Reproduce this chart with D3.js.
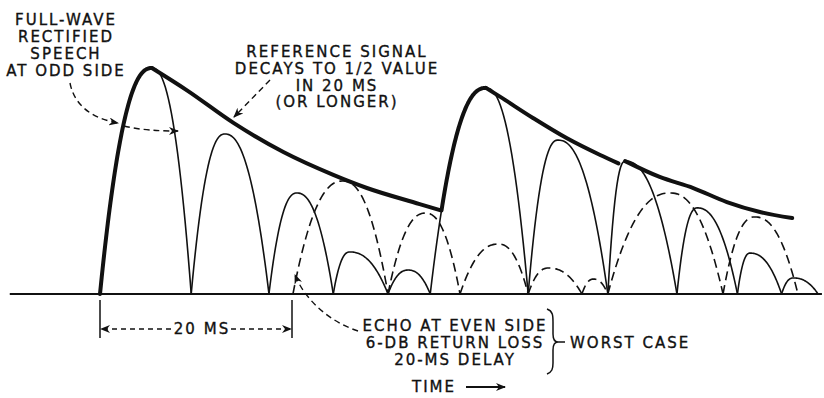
<!DOCTYPE html>
<html>
<head>
<meta charset="utf-8">
<script src="https://cdn.jsdelivr.net/npm/d3@7"></script>
<style>
  body { margin: 0; background: #fff; }
  svg text { font-family: "DejaVu Sans", sans-serif; font-size: 15px; letter-spacing: 2px; fill: #111; stroke: #111; stroke-width: 0.35px; }
</style>
</head>
<body>
<svg id="chart" width="824" height="398"></svg>
<script>
// times in ms, amplitudes relative to the first speech peak

// full-wave rectified speech at odd side (solid arches)
const speechStart = [0, 9.5, 17.6, 24.3, 30.0, 34.4, 44.6, 52.9, 60.1, 66.4, 71.0];
const speechPeakT = [5.4, 13.0, 20.5, 26.0, 32.1, 40.2, 47.7, 54.7, 62.2, 67.7, 72.2];
const speechEnd   = [9.5, 17.6, 24.3, 30.0, 34.4, 44.6, 52.9, 60.1, 66.4, 71.0, 74.8];
const speechAmp   = [1.0, 0.708, 0.447, 0.186, 0.106, 0.912, 0.681, 0.588, 0.381, 0.181, 0.071];

// echo at even side (dashed arches)
const echoStart = [20.1, 30.0, 37.5, 44.6, 50.2, 52.9, 64.9];
const echoPeakT = [25.3, 33.9, 41.5, 46.7, 51.4, 59.4, 68.2];
const echoEnd   = [30.0, 37.5, 44.6, 50.2, 52.9, 64.9, 72.7];
const echoAmp   = [0.5, 0.358, 0.221, 0.115, 0.066, 0.447, 0.341];

// reference signal envelope, three decaying pieces
const env1T = [5.4, 9.1, 13.9, 19.1, 24.3, 27.8, 33.3, 35.5];
const env1A = [1.0, 0.90, 0.757, 0.628, 0.527, 0.469, 0.398, 0.37];
const env2T = [40.2, 41.7, 45.1, 48.6, 52.1, 54.0];
const env2A = [0.912, 0.872, 0.779, 0.69, 0.615, 0.578];
const env3T = [54.7, 58.3, 61.8, 65.3, 68.75, 72.1];
const env3A = [0.588, 0.518, 0.469, 0.407, 0.363, 0.336];

const timeSpan = [-9.4, 75.2];
const delayMs = 20;
const burstArch = [0, 5]; // arches whose rising edge belongs to the envelope

const svg = d3.select('#chart');

const x = d3.scaleLinear().domain([0, 20]).range([100, 292]);
const y = d3.scaleLinear().domain([0, 1]).range([294, 68]);

const defs = svg.append('defs');
defs.append('marker')
  .attr('id', 'ah')
  .attr('viewBox', '0 0 10 8')
  .attr('refX', 9).attr('refY', 4)
  .attr('markerWidth', 10).attr('markerHeight', 8)
  .attr('markerUnits', 'userSpaceOnUse')
  .attr('orient', 'auto')
  .append('path')
  .attr('d', 'M0,0 L10,4 L0,8 L3,4 Z')
  .attr('fill', '#111');

const shapeK = 2.3;
function archValue(s, p, e, a, t) {
  if (t <= p) return a * (1 - Math.pow(1 - (t - s) / (p - s), shapeK));
  return a * (1 - Math.pow(1 - (e - t) / (e - p), shapeK));
}
function archPoints(s, p, e, a, from, to) {
  const n = 60, pts = [];
  for (let i = 0; i <= n; i++) {
    const t = from + (to - from) * i / n;
    pts.push([t, archValue(s, p, e, a, t)]);
  }
  return pts;
}

const line = d3.line()
  .x(d => x(d[0]))
  .y(d => y(d[1]));

const smooth = d3.line()
  .x(d => x(d[0]))
  .y(d => y(d[1]))
  .curve(d3.curveMonotoneX);

// baseline
svg.append('line')
  .attr('x1', x(timeSpan[0])).attr('x2', x(timeSpan[1]))
  .attr('y1', y(0)).attr('y2', y(0))
  .attr('stroke', '#111').attr('stroke-width', 2);

// echo arches
svg.selectAll('.echo')
  .data(d3.range(echoStart.length))
  .enter().append('path')
  .attr('class', 'echo')
  .attr('d', i => line(archPoints(echoStart[i], echoPeakT[i], echoEnd[i], echoAmp[i], echoStart[i], echoEnd[i])))
  .attr('fill', 'none')
  .attr('stroke', '#111')
  .attr('stroke-width', 1.6)
  .attr('stroke-dasharray', '9,5');

// speech arches
svg.selectAll('.speech')
  .data(d3.range(speechStart.length))
  .enter().append('path')
  .attr('class', 'speech')
  .attr('d', i => line(archPoints(speechStart[i], speechPeakT[i], speechEnd[i], speechAmp[i], speechStart[i], speechEnd[i])))
  .attr('fill', 'none')
  .attr('stroke', '#111')
  .attr('stroke-width', 1.6);

// envelope (thick)
const envStroke = 4;
[[env1T, env1A], [env2T, env2A], [env3T, env3A]].forEach(([ts, as]) => {
  svg.append('path')
    .attr('d', smooth(ts.map((t, i) => [t, as[i]])))
    .attr('fill', 'none')
    .attr('stroke', '#111')
    .attr('stroke-width', envStroke)
    .attr('stroke-linecap', 'round');
});

// rising edges that are part of the envelope
const riseFrom = [0, env1A[env1A.length - 1]];
burstArch.forEach((i, k) => {
  const s = speechStart[i], p = speechPeakT[i], e = speechEnd[i], a = speechAmp[i];
  // find where the rising edge passes the threshold
  let lo = s, hi = p;
  for (let j = 0; j < 40; j++) {
    const mid = (lo + hi) / 2;
    if (archValue(s, p, e, a, mid) < riseFrom[k]) lo = mid; else hi = mid;
  }
  svg.append('path')
    .attr('d', line(archPoints(s, p, e, a, hi, p)))
    .attr('fill', 'none')
    .attr('stroke', '#111')
    .attr('stroke-width', envStroke)
    .attr('stroke-linecap', 'round');
});

// 20 ms dimension
const dimY = 329;
[0, delayMs].forEach(t => {
  svg.append('line')
    .attr('x1', x(t)).attr('x2', x(t))
    .attr('y1', 300).attr('y2', 338)
    .attr('stroke', '#111').attr('stroke-width', 1.5);
});
svg.append('line')
  .attr('x1', 171).attr('x2', x(0) + 1)
  .attr('y1', dimY).attr('y2', dimY)
  .attr('stroke', '#111').attr('stroke-width', 1.4)
  .attr('stroke-dasharray', '5,4')
  .attr('marker-end', 'url(#ah)');
svg.append('line')
  .attr('x1', 231).attr('x2', x(delayMs) - 1)
  .attr('y1', dimY).attr('y2', dimY)
  .attr('stroke', '#111').attr('stroke-width', 1.4)
  .attr('stroke-dasharray', '5,4')
  .attr('marker-end', 'url(#ah)');
svg.append('text')
  .attr('x', 202).attr('y', 334)
  .attr('text-anchor', 'middle')
  .text('20 MS');

// annotation arrows
const dashedArrow = d =>
  svg.append('path')
    .attr('d', d)
    .attr('fill', 'none')
    .attr('stroke', '#111')
    .attr('stroke-width', 1.4)
    .attr('stroke-dasharray', '6,4')
    .attr('marker-end', 'url(#ah)');

dashedArrow('M70,83 C74,104 90,118 118,123');
dashedArrow('M124,126 C140,130 158,131 178,131');
dashedArrow('M270,80 L234,117');
dashedArrow('M358,331 C330,322 305,300 295,275');

// labels
const label = (lines, cx, y0, dy) => {
  lines.forEach((t, i) => {
    svg.append('text')
      .attr('x', cx).attr('y', y0 + i * dy)
      .attr('text-anchor', 'middle')
      .text(t);
  });
};
label(['FULL-WAVE', 'RECTIFIED', 'SPEECH', 'AT ODD SIDE'], 66, 25, 17);
label(['REFERENCE SIGNAL', 'DECAYS TO 1/2 VALUE', 'IN 20 MS', '(OR LONGER)'], 337, 57, 16.8);
label(['ECHO AT EVEN SIDE', '6-DB RETURN LOSS', '20-MS DELAY'], 455, 331, 17);

// brace + worst case
svg.append('path')
  .attr('d', 'M547,309 C553,311 553,316 553,322 L553,334 C553,339 555,342 558,342 C555,342 553,345 553,350 L553,363 C553,369 552,372 547,374')
  .attr('fill', 'none')
  .attr('stroke', '#111')
  .attr('stroke-width', 1.5);
svg.append('line')
  .attr('x1', 558).attr('x2', 565)
  .attr('y1', 342).attr('y2', 342)
  .attr('stroke', '#111').attr('stroke-width', 1.5);
svg.append('text')
  .attr('x', 570).attr('y', 348)
  .text('WORST CASE');

// time arrow
svg.append('text')
  .attr('x', 412).attr('y', 392)
  .text('TIME');
svg.append('line')
  .attr('x1', 466).attr('x2', 505)
  .attr('y1', 387).attr('y2', 387)
  .attr('stroke', '#111').attr('stroke-width', 2)
  .attr('marker-end', 'url(#ah)');
</script>
</body>
</html>
